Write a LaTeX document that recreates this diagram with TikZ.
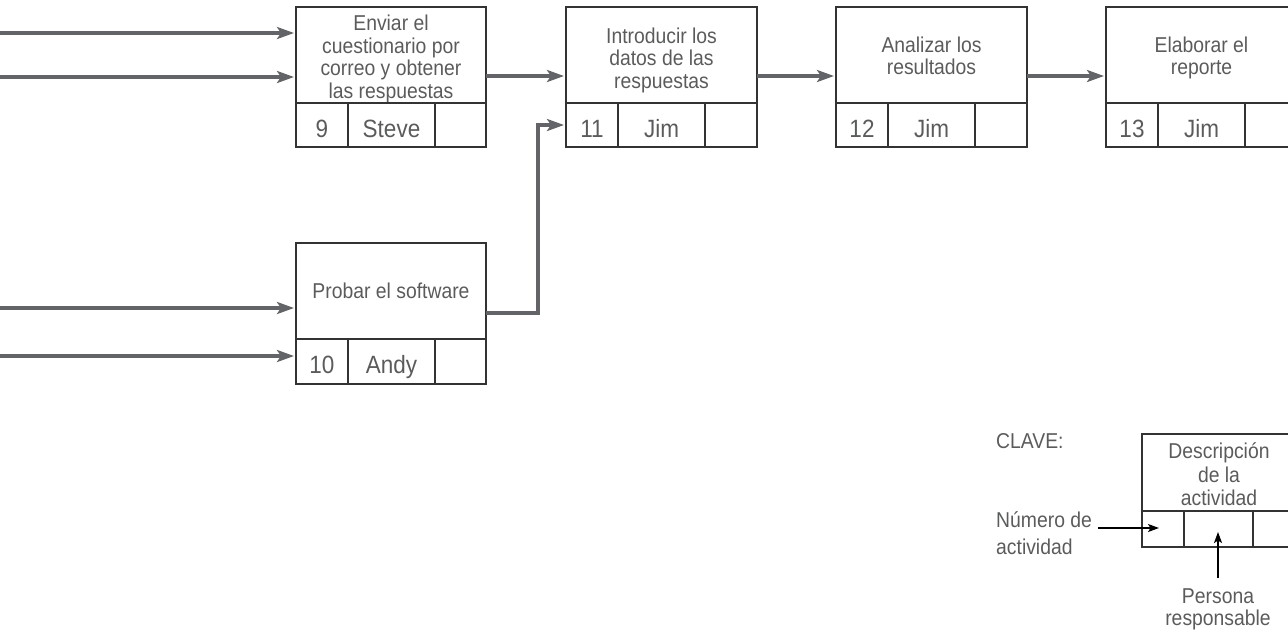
\documentclass[tikz,border=0pt]{standalone}
\usepackage{fontspec}
\setmainfont[FakeStretch=0.9]{Liberation Sans}
\usetikzlibrary{arrows.meta,positioning,calc}
\definecolor{boxc}{HTML}{333333}
\definecolor{txt}{HTML}{5A5B5D}
\definecolor{arrc}{HTML}{636467}
\tikzset{
  box/.style={draw=boxc, line width=1.5pt, inner sep=0pt, outer sep=0pt, text=txt, align=center},
  desc/.style={box, minimum width=190pt, minimum height=96pt},
  dtext/.style={inner sep=0pt, text=txt, align=center, font=\fontsize{21.5}{22.5}\selectfont},
  cell/.style={box, minimum height=44pt, text height=24pt, text depth=0pt, font=\fontsize{25}{26}\selectfont},
  kdesc/.style={box, minimum width=154pt, minimum height=77pt},
  kcell/.style={box, minimum height=36pt},
  arr/.style={draw=arrc, line width=3.2pt, shorten >=2pt, -{Stealth[length=17pt,width=12pt,inset=4pt]}},
  karr/.style={draw=black, line width=1.3pt, -{Stealth[length=11pt,width=8pt,inset=2.5pt]}},
  lbl/.style={text=txt, inner sep=0pt, font=\fontsize{21.5}{27}\selectfont},
}
\begin{document}
\begin{tikzpicture}[x=1pt,y=-1pt]
\useasboundingbox (0,0) rectangle (1288,630);
\clip (0,0) rectangle (1288,630);
% activity 9
\node[desc] (d9) at (391,55) {};
\node[dtext] (t9) at ($(d9)+(0,4)$) {Enviar el\\cuestionario por\\correo y obtener\\las respuestas};
\node[cell, minimum width=52pt] (n9) at (322,125) {9};
\node[cell, minimum width=87pt] (p9) at (391.5,125) {Steve};
\node[cell, minimum width=51pt] (e9) at (460.5,125) {};
% activity 10
\node[desc] (d10) at (391,291) {};
\node[dtext] (t10) at ($(d10)+(0,0)$) {Probar el software};
\node[cell, minimum width=52pt, minimum height=45pt] (n10) at (322,361.5) {10};
\node[cell, minimum width=87pt, minimum height=45pt] (p10) at (391.5,361.5) {Andy};
\node[cell, minimum width=51pt, minimum height=45pt] (e10) at (460.5,361.5) {};
% activity 11
\node[desc, minimum width=191pt] (d11) at (661.5,55) {};
\node[dtext] (t11) at ($(d11)+(0,5)$) {Introducir los\\datos de las\\respuestas};
\node[cell, minimum width=52pt] (n11) at (592,125) {11};
\node[cell, minimum width=87pt] (p11) at (661.5,125) {Jim};
\node[cell, minimum width=52pt] (e11) at (731,125) {};
% activity 12
\node[desc, minimum width=191pt] (d12) at (931.5,55) {};
\node[dtext] (t12) at ($(d12)+(0,1)$) {Analizar los\\resultados};
\node[cell, minimum width=52pt] (n12) at (862,125) {12};
\node[cell, minimum width=87pt] (p12) at (931.5,125) {Jim};
\node[cell, minimum width=52pt] (e12) at (1001,125) {};
% activity 13
\node[desc, minimum width=191pt] (d13) at (1201.5,55) {};
\node[dtext] (t13) at ($(d13)+(0,3)$) {Elaborar el\\reporte};
\node[cell, minimum width=52pt] (n13) at (1132,125) {13};
\node[cell, minimum width=87pt] (p13) at (1201.5,125) {Jim};
\node[cell, minimum width=52pt] (e13) at (1271,125) {};
% input coordinates
\coordinate (in1) at (0,33);
\coordinate (in2) at (0,77);
\coordinate (in3) at (0,308);
\coordinate (in4) at (0,356);
\coordinate (row) at (0,76);
\coordinate (out10) at (0,313);
\coordinate (bend) at (538,125);
\draw[arr] (in1) -- (in1 -| d9.west);
\draw[arr] (in2) -- (in2 -| d9.west);
\draw[arr] (in3) -- (in3 -| d10.west);
\draw[arr] (in4) -- (in4 -| n10.west);
\draw[arr] (d9.east |- row) -- (d11.west |- row);
\draw[arr] (d11.east |- row) -- (d12.west |- row);
\draw[arr] (d12.east |- row) -- (d13.west |- row);
\draw[arr] (d10.east |- out10) -| (bend) -- (n11.west);
% key
\node[lbl, anchor=west] (clave) at (996,441) {CLAVE:};
\node[kdesc] (kd) at (1219,472.5) {};
\node[dtext, font=\fontsize{21.5}{23.5}\selectfont] (kt) at ($(kd)+(0,2)$) {Descripción\\de la\\actividad};
\node[kcell, minimum width=42pt] (kn) at (1163,529) {};
\node[kcell, minimum width=69pt] (kp) at (1218.5,529) {};
\node[kcell, minimum width=43pt] (ke) at (1274.5,529) {};
\node[lbl, anchor=north west, align=left] (numlbl) at (996,511) {Número de\\actividad};
\node[lbl, anchor=north, align=center, font=\fontsize{21.5}{22}\selectfont] (perslbl) at (1218,588) {Persona\\responsable};
\coordinate (numstart) at (1098,528);
\coordinate (numtip) at (1159,528);
\coordinate (perstip) at (1218,532);
\draw[karr] (numstart) -- (numtip);
\draw[karr] (perslbl.north |- 0,578) -- (perstip);
\end{tikzpicture}
\end{document}
